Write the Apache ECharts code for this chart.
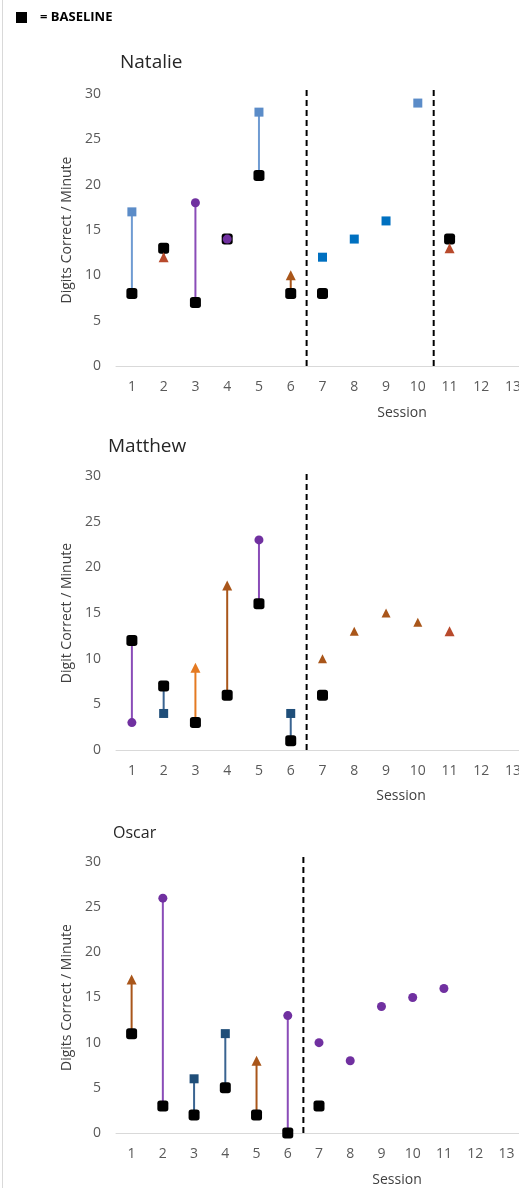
<!DOCTYPE html>
<html>
<head>
<meta charset="utf-8">
<script src="https://cdn.jsdelivr.net/npm/echarts@6/dist/echarts.min.js"></script>
<style>
html,body{margin:0;padding:0;overflow:hidden;background:#fff;}
#chart{width:540px;height:1188px;}
</style>
</head>
<body>
<div id="chart"></div>
<script>
// ---------- DATA ----------
const sessions = [1,2,3,4,5,6,7,8,9,10,11,12,13];
const yTicks = [0,5,10,15,20,25,30];

// Natalie (index = session-1)
const natBaseline = [8,13,7,14,21,8,8,null,null,null,14];
const natProbe    = [17,12,18,14,28,10,12,14,16,29,13];
const natCond     = ['LB','RT','PC','PC','LB','BA','BB','BB','BB','LB','RT'];
const natPhases   = [6.5,10.5];

// Matthew
const matBaseline = [12,7,3,6,16,1,6,null,null,null,null];
const matProbe    = [3,4,9,18,23,4,10,13,15,14,13];
const matCond     = ['PC','DB','OA','BA','PC','DB','BT','BT','BT','BT','RT'];
const matPhases   = [6.5];

// Oscar
const oscBaseline = [11,3,2,5,2,0,3,null,null,null,null];
const oscProbe    = [17,26,6,11,8,13,10,8,14,15,16];
const oscCond     = ['BA','PC','DB','DB','BA','PC','PC','PC','PC','PC','PC'];
const oscPhases   = [6.5];

// ---------- STYLES ----------
const FONT = '"Open Sans", "Noto Sans", sans-serif';
const condStyle = {
  LB: {symbol:'rect', size:9, color:'#5b8cc8', line:'#6f9bd2'},
  BB: {symbol:'rect', size:9, color:'#0070c0', line:'#0070c0'},
  PC: {symbol:'circle', size:9, color:'#7030a0', line:'#8a4cb8'},
  RT: {symbol:'triangle', size:10, color:'#b84a2c', line:'#a9561a'},
  BA: {symbol:'triangle', size:10, color:'#a9561a', line:'#a9561a'},
  BT: {symbol:'triangle', size:9, color:'#a9561a', line:'#a9561a'},
  OA: {symbol:'triangle', size:10, color:'#e47a22', line:'#e47a22'},
  DB: {symbol:'rect', size:9, color:'#1f4e79', line:'#3a6491'}
};

const panels = [
  {name:'Natalie', ytitle:'Digits Correct / Minute', base:natBaseline, probe:natProbe, cond:natCond, phases:natPhases,
   grid:{left:116, top:94, width:413, height:272}, title:{x:120, y:63, size:19}, session:{x:402, y:413}},
  {name:'Matthew', ytitle:'Digit Correct / Minute', base:matBaseline, probe:matProbe, cond:matCond, phases:matPhases,
   grid:{left:116, top:476, width:413, height:274}, title:{x:108, y:447, size:19}, session:{x:401, y:796}},
  {name:'Oscar', ytitle:'Digits Correct / Minute', base:oscBaseline, probe:oscProbe, cond:oscCond, phases:oscPhases,
   grid:{left:116, top:862, width:406, height:271}, title:{x:113, y:833, size:16}, session:{x:397, y:1180}}
];

const grids = [], xAxes = [], yAxes = [], series = [], graphics = [];

graphics.push({type:'rect', shape:{x:2, y:0, width:1, height:1188}, style:{fill:'#d9d9d9'}, silent:true});

panels.forEach((p, i) => {
  grids.push(p.grid);
  xAxes.push({
    type:'value', gridIndex:i, min:0.5, max:13.5,
    axisLine:{show:true, lineStyle:{color:'#d9d9d9', width:1}},
    axisTick:{show:false},
    splitLine:{show:false},
    axisLabel:{customValues:sessions, color:'#595959', fontSize:14, fontFamily:FONT, margin:14}
  });
  yAxes.push({
    type:'value', gridIndex:i, min:0, max:30, interval:5,
    axisLine:{show:false}, axisTick:{show:false}, splitLine:{show:false},
    axisLabel:{color:'#595959', fontSize:14, fontFamily:FONT, margin:15},
    name:p.ytitle, nameLocation:'middle', nameRotate:90, nameGap:36,
    nameTextStyle:{color:'#404040', fontSize:14, fontFamily:FONT}
  });

  // phase change dashed lines
  series.push({
    type:'custom', xAxisIndex:i, yAxisIndex:i, clip:false, silent:true, z:1,
    data:p.phases.map(v => [v]),
    renderItem:(params, api) => {
      const a = api.coord([api.value(0), 0]);
      const b = api.coord([api.value(0), 30.6]);
      return {type:'line', shape:{x1:a[0], y1:a[1], x2:b[0], y2:b[1]},
        style:{stroke:'#000', lineWidth:2, lineDash:[6,4]}};
    }
  });

  // stems baseline -> probe (sessions before the first phase line)
  const stems = [];
  p.base.forEach((b, k) => {
    const s = k + 1;
    if (b !== null && s < p.phases[0]) stems.push([s, b, p.probe[k], p.cond[k]]);
  });
  series.push({
    type:'custom', xAxisIndex:i, yAxisIndex:i, clip:false, silent:true, z:2,
    data:stems.map(d => [d[0], d[1], d[2]]),
    renderItem:(params, api) => {
      const a = api.coord([api.value(0), api.value(1)]);
      const b = api.coord([api.value(0), api.value(2)]);
      const st = condStyle[stems[params.dataIndex][3]];
      return {type:'line', shape:{x1:a[0], y1:a[1], x2:b[0], y2:b[1]},
        style:{stroke:st.line, lineWidth:2}};
    }
  });

  // baseline squares
  series.push({
    name:'= BASELINE', type:'scatter', xAxisIndex:i, yAxisIndex:i, z:3,
    symbol:'roundRect', symbolSize:11, itemStyle:{color:'#000', opacity:1},
    data:p.base.map((v, k) => v === null ? null : [k + 1, v]).filter(d => d)
  });

  // probe markers grouped by condition
  Object.keys(condStyle).forEach(c => {
    const pts = [];
    p.probe.forEach((v, k) => { if (p.cond[k] === c) pts.push([k + 1, v]); });
    if (!pts.length) return;
    const st = condStyle[c];
    series.push({
      type:'scatter', xAxisIndex:i, yAxisIndex:i, z:4,
      symbol:st.symbol, symbolSize:st.size, itemStyle:{color:st.color, opacity:1},
      data:pts
    });
  });

  graphics.push({type:'text', x:p.title.x, y:p.title.y,
    style:{text:p.name, fontSize:p.title.size, fontFamily:FONT, fill:'#262626', verticalAlign:'middle', align:'left'}});
  graphics.push({type:'text', x:p.session.x, y:p.session.y,
    style:{text:'Session', fontSize:14, fontFamily:FONT, fill:'#404040', verticalAlign:'middle', align:'center'}});
});

const chart = echarts.init(document.getElementById('chart'), null, {renderer:'canvas'});
chart.setOption({
  animation:false,
  backgroundColor:'#fff',
  legend:{
    data:['= BASELINE'], left:16, top:11, padding:0, icon:'rect', itemWidth:11, itemHeight:11,
    selectedMode:false, itemStyle:{color:'#000', opacity:1},
    textStyle:{fontSize:13, fontWeight:'bold', color:'#000', fontFamily:FONT, padding:[0,0,0,8]}
  },
  grid:grids, xAxis:xAxes, yAxis:yAxes, series:series, graphic:graphics
});
</script>
</body>
</html>
